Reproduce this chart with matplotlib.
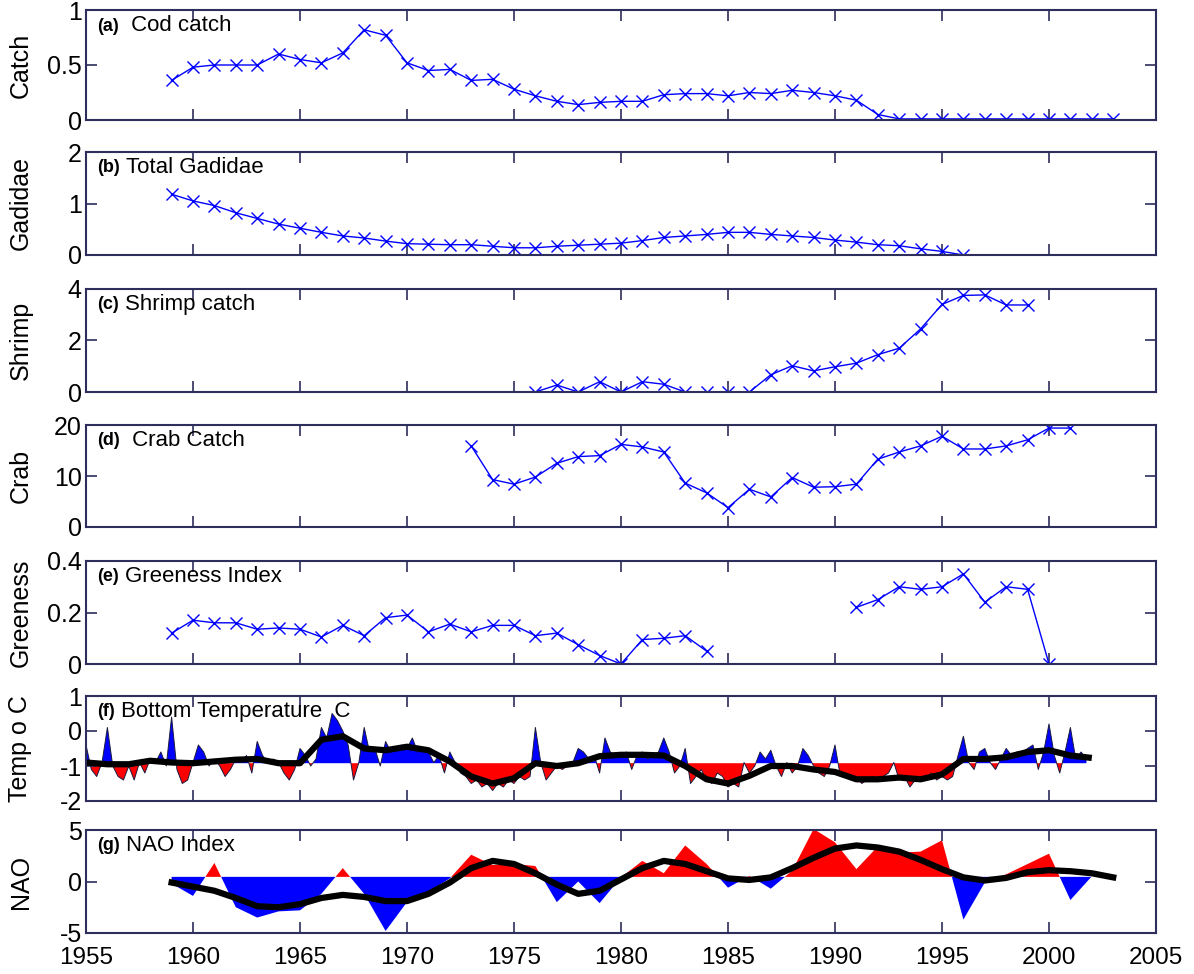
import numpy as np
import matplotlib
matplotlib.use("Agg")
from matplotlib import pyplot as plt
from matplotlib.ticker import FormatStrFormatter

plt.rcParams['font.family'] = ['Liberation Sans', 'DejaVu Sans']
plt.rcParams['axes.unicode_minus'] = False

# (a) cod catch
cod_years = list(range(1959, 2004))
cod = [0.36, 0.48, 0.50, 0.50, 0.50, 0.60, 0.55, 0.52, 0.61, 0.82,
       0.77, 0.52, 0.45, 0.46, 0.36, 0.37, 0.28, 0.22, 0.17, 0.14,
       0.16, 0.17, 0.17, 0.23, 0.24, 0.24, 0.22, 0.25, 0.24, 0.27,
       0.25, 0.22, 0.18, 0.05, 0.01, 0.01, 0.01, 0.01, 0.01, 0.01,
       0.01, 0.01, 0.01, 0.01, 0.01]

# (b) total gadidae
gad_years = list(range(1959, 1997))
gadidae = [1.18, 1.05, 0.96, 0.82, 0.71, 0.60, 0.52, 0.44, 0.37, 0.33,
           0.27, 0.22, 0.21, 0.20, 0.20, 0.17, 0.14, 0.14, 0.17, 0.19,
           0.21, 0.23, 0.28, 0.34, 0.37, 0.40, 0.44, 0.44, 0.40, 0.37,
           0.34, 0.29, 0.25, 0.20, 0.18, 0.12, 0.07, 0.0]

# (c) shrimp catch
shrimp_years = list(range(1976, 2000))
shrimp = [0.0, 0.27, 0.0, 0.40, 0.0, 0.40, 0.30, 0.0, 0.0, 0.0,
          0.0, 0.67, 1.02, 0.82, 0.98, 1.12, 1.45, 1.70, 2.45, 3.40,
          3.75, 3.77, 3.38, 3.38]

# (d) crab catch
crab_years = list(range(1973, 2002))
crab = [15.9, 9.3, 8.4, 9.8, 12.5, 13.8, 14.0, 16.2, 15.7, 14.7,
        8.6, 6.7, 3.8, 7.4, 5.9, 9.7, 7.8, 7.9, 8.4, 13.3,
        14.7, 15.9, 17.8, 15.3, 15.3, 15.9, 17.1, 19.4, 19.4]

# (e) greeness index (gap 1985-1990)
green_years = list(range(1959, 2001))
greeness = [0.12, 0.17, 0.16, 0.16, 0.135, 0.14, 0.135, 0.105, 0.15, 0.11,
            0.18, 0.19, 0.125, 0.155, 0.125, 0.15, 0.15, 0.11, 0.12, 0.075,
            0.033, 0.0, 0.095, 0.10, 0.11, 0.05,
            np.nan, np.nan, np.nan, np.nan, np.nan, np.nan,
            0.22, 0.25, 0.30, 0.29, 0.30, 0.35, 0.24, 0.30, 0.29, 0.0]

# (f) bottom temperature, quarterly readings 1955-2001
temp_start = 1955
temp = [-0.4, -1.1, -1.3, -0.9,   0.1, -1.0, -1.3, -1.4,
        -1.0, -1.4, -0.9, -1.2,  -0.8, -0.9, -0.6, -1.0,
         0.4, -1.1, -1.5, -1.4,  -0.9, -0.4, -0.6, -1.0,
        -0.8, -1.0, -1.3, -1.1,  -0.8, -0.9, -0.7, -1.2,
        -0.3, -0.7, -0.9, -0.8,  -0.9, -1.2, -1.4, -1.1,
        -0.5, -0.7, -1.0, -0.8,   0.1, -0.2, 0.5, 0.3,
         0.0, -0.4, -1.4, -0.9,   0.1, -0.6, -0.5, -1.0,
        -0.3, -0.6, -0.5, -0.4,  -0.5, -0.2, -0.6, -0.5,
        -0.6, -0.9, -0.7, -1.2,  -0.6, -0.9, -1.2, -1.3,
        -1.5, -1.4, -1.6, -1.5,  -1.7, -1.5, -1.6, -1.4,
        -1.5, -1.3, -1.4, -1.3,   0.1, -0.9, -1.4, -1.2,
        -1.0, -1.1, -1.0, -0.9,  -0.5, -0.6, -0.8, -0.7,
        -1.2, -0.2, -0.6, -0.7,  -0.7, -0.6, -1.1, -0.7,
        -0.6, -0.8, -0.7, -0.6,  -0.2, -0.6, -1.2, -1.0,
        -0.5, -1.5, -1.3, -1.1,  -1.4, -1.5, -1.2, -1.3,
        -1.6, -1.5, -1.6, -0.9,  -1.2, -1.0, -0.6, -0.8,
        -0.55, -1.0, -1.3, -0.9, -1.2, -1.0, -0.5, -0.7,
        -1.0, -1.2, -1.3, -1.0,  -0.4, -1.3, -1.2, -1.4,
        -1.3, -1.5, -1.4, -1.3,  -1.4, -1.3, -1.2, -0.9,
        -1.4, -1.3, -1.6, -1.4,  -1.3, -1.4, -1.2, -1.4,
        -1.3, -1.4, -1.3, -0.7,  -0.15, -0.9, -1.1, -0.6,
        -0.5, -0.9, -1.1, -0.8,  -0.5, -0.7, -0.6, -0.6,
        -0.5, -0.4, -1.1, -0.6,   0.2, -0.7, -1.2, -0.6,
         0.1, -0.8, -0.6, -0.8]
temp_base = -0.92
temp_smooth_years = list(range(1955, 2003))
temp_smooth = [-0.9, -0.95, -0.95, -0.85, -0.9, -0.92, -0.87, -0.82, -0.8, -0.92,
               -0.92, -0.25, -0.15, -0.5, -0.55, -0.45, -0.55, -0.87, -1.3, -1.5,
               -1.35, -0.92, -1.0, -0.92, -0.72, -0.68, -0.68, -0.7, -1.0, -1.38,
               -1.5, -1.28, -1.0, -1.0, -1.1, -1.17, -1.38, -1.38, -1.33, -1.38,
               -1.24, -0.8, -0.8, -0.75, -0.6, -0.55, -0.7, -0.77]

# (g) NAO index
nao_years = list(range(1959, 2003))
nao = [-0.2, -1.4, 1.8, -2.5, -3.5, -2.9, -2.8, -1.2, 1.3, -1.2,
       -4.8, -2.0, -1.0, 0.3, 2.6, 1.6, 1.7, 1.5, -2.0, 0.0,
       -2.1, 0.4, 2.0, 0.8, 3.5, 1.7, -0.6, 0.55, -0.7, 1.05,
       5.1, 3.8, 1.2, 3.4, 2.8, 2.9, 4.0, -3.7, -0.1, 0.7,
       1.7, 2.7, -1.8, 0.5]
nao_base = 0.45
nao_smooth_years = list(range(1959, 2004))
nao_smooth = [-0.1, -0.5, -0.9, -1.6, -2.4, -2.5, -2.2, -1.6, -1.3, -1.5,
              -1.9, -1.9, -1.2, -0.1, 1.3, 2.0, 1.7, 0.8, -0.3, -1.2,
              -0.9, 0.2, 1.3, 2.0, 1.7, 1.0, 0.3, 0.15, 0.4, 1.3,
              2.3, 3.2, 3.5, 3.3, 2.9, 2.1, 1.2, 0.4, 0.1, 0.35,
              0.9, 1.1, 1.0, 0.8, 0.4]

line_color = '#0000ff'
frame_color = '#2e2e5c'

fig = plt.figure(figsize=(11.94, 9.74), dpi=100)

# panel tops / bottoms in pixels
tops = [10, 152, 289, 425, 561, 696, 830]
bottoms = [120, 255, 392, 527, 664, 801, 933]
axes = []
for t, b in zip(tops, bottoms):
    ax = fig.add_axes([86 / 1194, 1 - b / 974, 1070 / 1194, (b - t) / 974])
    axes.append(ax)


def style(ax, ylim, yticks, ylabel, tag, name, bottom=False):
    ax.set_xlim(1955, 2005)
    ax.set_ylim(*ylim)
    ax.set_yticks(yticks)
    ax.yaxis.set_major_formatter(FormatStrFormatter('%g'))
    ax.set_xticks(range(1955, 2006, 5))
    ax.tick_params(direction='in', top=True, right=True, length=8,
                   width=1.2, color=frame_color, labelsize=18, pad=3)
    ax.tick_params(axis='x', pad=10, labelsize=17.5)
    if not bottom:
        ax.tick_params(labelbottom=False)
    for s in ax.spines.values():
        s.set_color(frame_color)
        s.set_linewidth(1.5)
    ax.set_ylabel(ylabel, fontsize=18)
    ax.yaxis.set_label_coords(-0.05, 0.5)
    t1 = ax.text(0.01, 0.93, tag, transform=ax.transAxes, fontsize=13,
                 fontweight='bold', va='top')
    ax.annotate(name, xy=(1, 0), xycoords=t1, xytext=(5, -1),
                textcoords='offset points', fontsize=16, va='bottom')


def xline(ax, x, y):
    ax.plot(x, y, color=line_color, lw=1, marker='x', ms=9, mew=1)


ax = axes[0]
xline(ax, cod_years, cod)
style(ax, (0, 1), [0, 0.5, 1], 'Catch', '(a)', ' Cod catch')

ax = axes[1]
xline(ax, gad_years, gadidae)
style(ax, (0, 2), [0, 1, 2], 'Gadidae', '(b)', 'Total Gadidae')

ax = axes[2]
xline(ax, shrimp_years, shrimp)
style(ax, (0, 4), [0, 2, 4], 'Shrimp', '(c)', 'Shrimp catch')

ax = axes[3]
xline(ax, crab_years, crab)
style(ax, (0, 20), [0, 10, 20], 'Crab', '(d)', ' Crab Catch')

ax = axes[4]
xline(ax, green_years, greeness)
style(ax, (0, 0.4), [0, 0.2, 0.4], 'Greeness', '(e)', 'Greeness Index')

ax = axes[5]
tx = temp_start + np.arange(len(temp)) * 0.25
ty = np.array(temp)
ax.fill_between(tx, ty, temp_base, where=ty >= temp_base, interpolate=True,
                color='blue', lw=0)
ax.fill_between(tx, ty, temp_base, where=ty <= temp_base, interpolate=True,
                color='red', lw=0)
ax.plot(tx, ty, color='#1a1a40', lw=0.7)
ax.plot(temp_smooth_years, temp_smooth, color='black', lw=4.5,
        solid_capstyle='butt')
style(ax, (-2, 1), [-2, -1, 0, 1], 'Temp o C', '(f)', 'Bottom Temperature  C')

ax = axes[6]
nx = np.array(nao_years)
ny = np.array(nao)
ax.fill_between(nx, ny, nao_base, where=ny >= nao_base, interpolate=True,
                color='red', lw=0)
ax.fill_between(nx, ny, nao_base, where=ny <= nao_base, interpolate=True,
                color='blue', lw=0)
ax.plot(nao_smooth_years, nao_smooth, color='black', lw=4.5)
style(ax, (-5, 5), [-5, 0, 5], 'NAO', '(g)', 'NAO Index', bottom=True)

fig.savefig('out.png', dpi=100)
